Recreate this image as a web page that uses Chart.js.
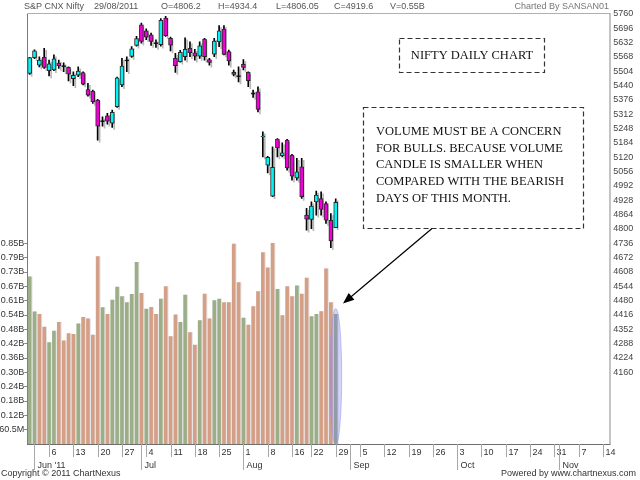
<!DOCTYPE html>
<html><head><meta charset="utf-8">
<script src="https://cdn.jsdelivr.net/npm/chart.js@4.4.1/dist/chart.umd.min.js"></script>
<style>html,body{margin:0;padding:0;background:#fff;overflow:hidden}canvas{display:block}</style>
</head><body>
<canvas id="c" width="640" height="480" style="width:640px;height:480px"></canvas>
<script>
// ---- categories (trading days, then empty future slots) ----
const dates = [
'05-31',
'06-01','06-02','06-03','06-06','06-07','06-08','06-09','06-10','06-13','06-14','06-15','06-16','06-17','06-20','06-21','06-22','06-23','06-24','06-27','06-28','06-29','06-30',
'07-01','07-04','07-05','07-06','07-07','07-08','07-11','07-12','07-13','07-14','07-15','07-18','07-19','07-20','07-21','07-22','07-25','07-26','07-27','07-28','07-29',
'08-01','08-02','08-03','08-04','08-05','08-08','08-09','08-10','08-11','08-12','08-16','08-17','08-18','08-19','08-22','08-23','08-24','08-25','08-26','08-29',
'08-30','08-31','09-01','09-02','09-05','09-06','09-07','09-08','09-09','09-12','09-13','09-14','09-15','09-16','09-19','09-20','09-21','09-22','09-23','09-26','09-27','09-28','09-29','09-30',
'10-03','10-04','10-05','10-06','10-07','10-10','10-11','10-12','10-13','10-14','10-17','10-18','10-19','10-20','10-21','10-24','10-25','10-26','10-27','10-28','10-31',
'11-01','11-02','11-03','11-04','11-07','11-08','11-09','11-10','11-11','11-14','11-15'
];
// ---- series ----
const opens  = [5495,5565,5532,5566,5507,5510,5541,5527,5522,5471,5487,5498,5423,5416,5376,5282,5305,5272,5346,5443,5553,5571,5620,5712,5685,5667,5630,5623,5742,5651,5562,5547,5569,5607,5587,5572,5648,5557,5581,5636,5693,5592,5499,5483,5535,5499,5405,5413,5211,5085,4947,5201,5127,5197,5130,5028,5078,4862,4843,4921,4936,4914,4839,4806.2];
const highs  = [5567,5600,5569,5607,5554,5578,5554,5542,5524,5502,5524,5502,5450,5420,5379,5301,5316,5331,5478,5562,5569,5614,5660,5720,5694,5675,5645,5739,5750,5657,5584,5598,5654,5636,5602,5636,5651,5562,5651,5708,5708,5599,5510,5524,5557,5502,5420,5435,5234,5125,5167,5204,5185,5200,5133,5115,5115,4892,4921,4969,4966,4921,4869,4934.4];
const lows   = [5490,5560,5524,5517,5483,5507,5517,5502,5461,5440,5480,5443,5393,5361,5197,5259,5268,5254,5343,5435,5502,5566,5616,5630,5645,5620,5611,5616,5660,5595,5499,5545,5554,5569,5554,5562,5554,5532,5569,5614,5577,5532,5483,5457,5510,5435,5388,5323,5122,5050,4944,5122,5122,5063,5018,5018,4937,4795,4802,4862,4862,4825,4717,4806.05];
const closes = [5565,5596,5554,5522,5537,5560,5529,5528,5491,5486,5505,5447,5398,5368,5259,5283,5282,5321,5475,5528,5554,5605,5650,5638,5657,5638,5630,5732,5663,5621,5529,5589,5602,5587,5572,5618,5569,5544,5639,5685,5580,5550,5490,5484,5522,5462,5406,5334,5215,5120,5075,5162,5140,5073,5036,5055,4944,4844,4902,4951,4887,4839,4747,4919.6];
const volumes = [706,558,547,493,428,477,514,435,466,463,507,535,528,460,791,576,547,608,662,622,597,632,767,636,569,577,547,612,664,453,545,514,629,470,418,521,633,528,605,612,597,597,844,681,531,502,580,643,808,744,847,653,542,664,622,668,633,700,538,547,559,739,597,547]; // millions
// ---- tick labels ----
const priceTicks = [5760,5696,5632,5568,5504,5440,5376,5312,5248,5184,5120,5056,4992,4928,4864,4800,4736,4672,4608,4544,4480,4416,4352,4288,4224,4160];
const volTickValues = [60.5,121,181.5,242,302.5,363,423.5,484,544.5,605,665.5,726,786.5,847];
const volTickLabels = ['60.5M','0.12B','0.18B','0.24B','0.30B','0.36B','0.42B','0.48B','0.54B','0.61B','0.67B','0.73B','0.79B','0.85B'];
const dayTickDates  = ['06-06','06-13','06-20','06-27','07-04','07-11','07-18','07-25','08-01','08-08','08-16','08-22','08-29','09-05','09-12','09-19','09-26','10-03','10-10','10-17','10-24','10-31','11-07','11-14'];
const dayTickLabels = ['6','13','20','27','4','11','18','25','1','8','16','22','29','5','12','19','26','3','10','17','24','31','7','14'];
const monthTickDates  = ['06-01','07-01','08-01','09-01','10-03','11-01'];
const monthTickLabels = ["Jun '11",'Jul','Aug','Sep','Oct','Nov'];
const headerItems = ['S&P CNX Nifty','29/08/2011','O=4806.2','H=4934.4','L=4806.05','C=4919.6','V=0.55B'];
const headerX = [24,94,161,218,276,334,390];
const noteLines = ['VOLUME MUST BE A CONCERN','FOR BULLS. BECAUSE VOLUME','CANDLE IS SMALLER WHEN','COMPARED WITH THE BEARISH','DAYS OF THIS MONTH.'];

const FONT = "'Liberation Sans', Arial, sans-serif";
const SERIF = "'Liberation Serif', 'Times New Roman', serif";
Chart.defaults.font.family = FONT;
Chart.defaults.font.size = 9;

const bodies = opens.map((o, i) => {
  const c = closes[i];
  return Math.abs(c - o) < 3 ? [o - 2.5, o + 2.5] : [o, c];
});
const bodyColors = opens.map((o, i) => {
  const c = closes[i];
  if (Math.abs(c - o) < 3) return '#000000';
  return c > o ? '#00f5f5' : '#f000d8';
});
const wicks = lows.map((l, i) => [l, highs[i]]);
const volColors = volumes.map((v, i) => (i === 0 || closes[i] >= closes[i - 1]) ? '#9bae88' : '#d49f87');

const shadowPlugin = {
  id: 'shadow',
  beforeDatasetDraw(chart, args) {
    const ctx = chart.ctx; ctx.save();
    if (args.index <= 1) {
      ctx.shadowColor = 'rgba(0,0,0,0.28)'; ctx.shadowOffsetX = 2; ctx.shadowOffsetY = 2; ctx.shadowBlur = 0;
    } else {
      ctx.shadowColor = 'rgba(0,0,0,0.12)'; ctx.shadowOffsetX = 1; ctx.shadowOffsetY = 0; ctx.shadowBlur = 0;
    }
  },
  afterDatasetDraw(chart) { chart.ctx.restore(); }
};

const decorPlugin = {
  id: 'decor',
  afterDraw(chart) {
    const ctx = chart.ctx, a = chart.chartArea, xs = chart.scales.x, yv = chart.scales.yVol;
    ctx.save();
    // frame lines
    ctx.lineWidth = 1;
    ctx.strokeStyle = '#b0b0b0';
    ctx.beginPath(); ctx.moveTo(a.left, a.top - 0.5); ctx.lineTo(a.right, a.top - 0.5); ctx.stroke();
    ctx.strokeStyle = '#6f6f6f';
    ctx.beginPath(); ctx.moveTo(a.left, a.bottom + 0.5); ctx.lineTo(a.right, a.bottom + 0.5); ctx.stroke();
    // x axis ticks
    ctx.font = '9px ' + FONT; ctx.textBaseline = 'middle'; ctx.textAlign = 'left';
    ctx.strokeStyle = '#a8a8a8'; ctx.fillStyle = '#333';
    dayTickDates.forEach((d, k) => {
      const px = Math.round(xs.getPixelForValue(dates.indexOf(d))) + 0.5;
      ctx.beginPath(); ctx.moveTo(px, a.bottom); ctx.lineTo(px, a.bottom + 13); ctx.stroke();
      ctx.fillText(dayTickLabels[k], px + 2, a.bottom + 8.5);
    });
    monthTickDates.forEach((d, k) => {
      const px = Math.round(xs.getPixelForValue(dates.indexOf(d))) + 0.5;
      ctx.beginPath(); ctx.moveTo(px, a.bottom); ctx.lineTo(px, a.bottom + 26); ctx.stroke();
      ctx.fillText(monthTickLabels[k], px + 3, a.bottom + 21.5);
    });
    // header
    ctx.fillStyle = '#555';
    headerItems.forEach((t, k) => ctx.fillText(t, headerX[k], 6.5));
    ctx.fillStyle = '#777'; ctx.textAlign = 'right';
    ctx.fillText('Charted By SANSAN01', 609, 6.5);
    // footer
    ctx.fillStyle = '#333';
    ctx.fillText('Powered by www.chartnexus.com', 636, 474);
    ctx.textAlign = 'left';
    ctx.fillText('Copyright \u00A9 2011 ChartNexus', 1, 474);
    // highlight ellipse on last volume bar
    const last = volumes.length - 1;
    const cx = xs.getPixelForValue(last);
    const top = yv.getPixelForValue(volumes[last]) - 6;
    const bot = a.bottom + 1;
    ctx.beginPath();
    ctx.ellipse(cx, (top + bot) / 2, 6, (bot - top) / 2, 0, 0, Math.PI * 2);
    ctx.fillStyle = 'rgba(120,120,240,0.32)'; ctx.fill();
    ctx.strokeStyle = 'rgba(150,150,245,0.55)'; ctx.stroke();
    // annotation boxes
    ctx.setLineDash([5, 3]); ctx.strokeStyle = '#333'; ctx.lineWidth = 1.2;
    ctx.strokeRect(399.5, 38.5, 145, 34);
    ctx.strokeRect(363.5, 107.5, 220, 121);
    ctx.setLineDash([]);
    ctx.fillStyle = '#111'; ctx.font = '12.5px ' + SERIF;
    ctx.textAlign = 'center';
    ctx.fillText('NIFTY DAILY CHART', 472, 55.5);
    ctx.textAlign = 'left';
    noteLines.forEach((t, k) => ctx.fillText(t, 376, 132 + k * 16.6));
    // arrow
    const x0 = 432, y0 = 228.5, x1 = 343, y1 = 303.5;
    ctx.strokeStyle = '#000'; ctx.lineWidth = 1.2;
    ctx.beginPath(); ctx.moveTo(x0, y0); ctx.lineTo(x1 + 6, y1 - 5); ctx.stroke();
    const ang = Math.atan2(y1 - y0, x1 - x0), L = 12, W = 0.38;
    ctx.beginPath();
    ctx.moveTo(x1, y1);
    ctx.lineTo(x1 - L * Math.cos(ang - W), y1 - L * Math.sin(ang - W));
    ctx.lineTo(x1 - L * Math.cos(ang + W), y1 - L * Math.sin(ang + W));
    ctx.closePath(); ctx.fillStyle = '#000'; ctx.fill();
    ctx.restore();
  }
};

new Chart(document.getElementById('c'), {
  type: 'bar',
  data: {
    labels: dates,
    datasets: [
      { label: 'body', data: bodies, yAxisID: 'yPrice', grouped: false, barThickness: 4,
        backgroundColor: bodyColors, borderColor: '#2a2a2a', borderWidth: 1, borderSkipped: false, order: 0 },
      { label: 'wick', data: wicks, yAxisID: 'yPrice', grouped: false, barThickness: 1,
        backgroundColor: '#000', borderWidth: 0, order: 1 },
      { label: 'volume', data: volumes, yAxisID: 'yVol', grouped: false, barThickness: 3,
        backgroundColor: volColors, borderWidth: 0, order: 2 }
    ]
  },
  options: {
    responsive: false, animation: false, devicePixelRatio: 1,
    layout: { padding: { top: 14, bottom: 36, left: 0, right: 0 } },
    plugins: { legend: { display: false }, tooltip: { enabled: false } },
    scales: {
      x: { type: 'category', display: false, offset: true, grid: { display: false } },
      yPrice: {
        position: 'right', min: 3840, max: 5760,
        afterBuildTicks: ax => { ax.ticks = priceTicks.map(v => ({ value: v })); },
        afterFit: ax => { ax.width = 29.8; },
        ticks: { autoSkip: false, color: '#444', padding: 3, callback: v => String(v) },
        grid: { drawOnChartArea: false, drawTicks: false },
        border: { color: '#c4c4c4', width: 2 }
      },
      yVol: {
        position: 'left', min: 0, max: 1815,
        afterBuildTicks: ax => { ax.ticks = volTickValues.map(v => ({ value: v })); },
        afterFit: ax => { ax.width = 27.2; },
        ticks: { autoSkip: false, color: '#333', padding: 0, callback: (v, i) => volTickLabels[i] },
        grid: { drawOnChartArea: false, drawTicks: true, tickLength: 3, color: '#888' },
        border: { color: '#7a7a7a', width: 1 }
      }
    }
  },
  plugins: [shadowPlugin, decorPlugin]
});
</script>
</body></html>
